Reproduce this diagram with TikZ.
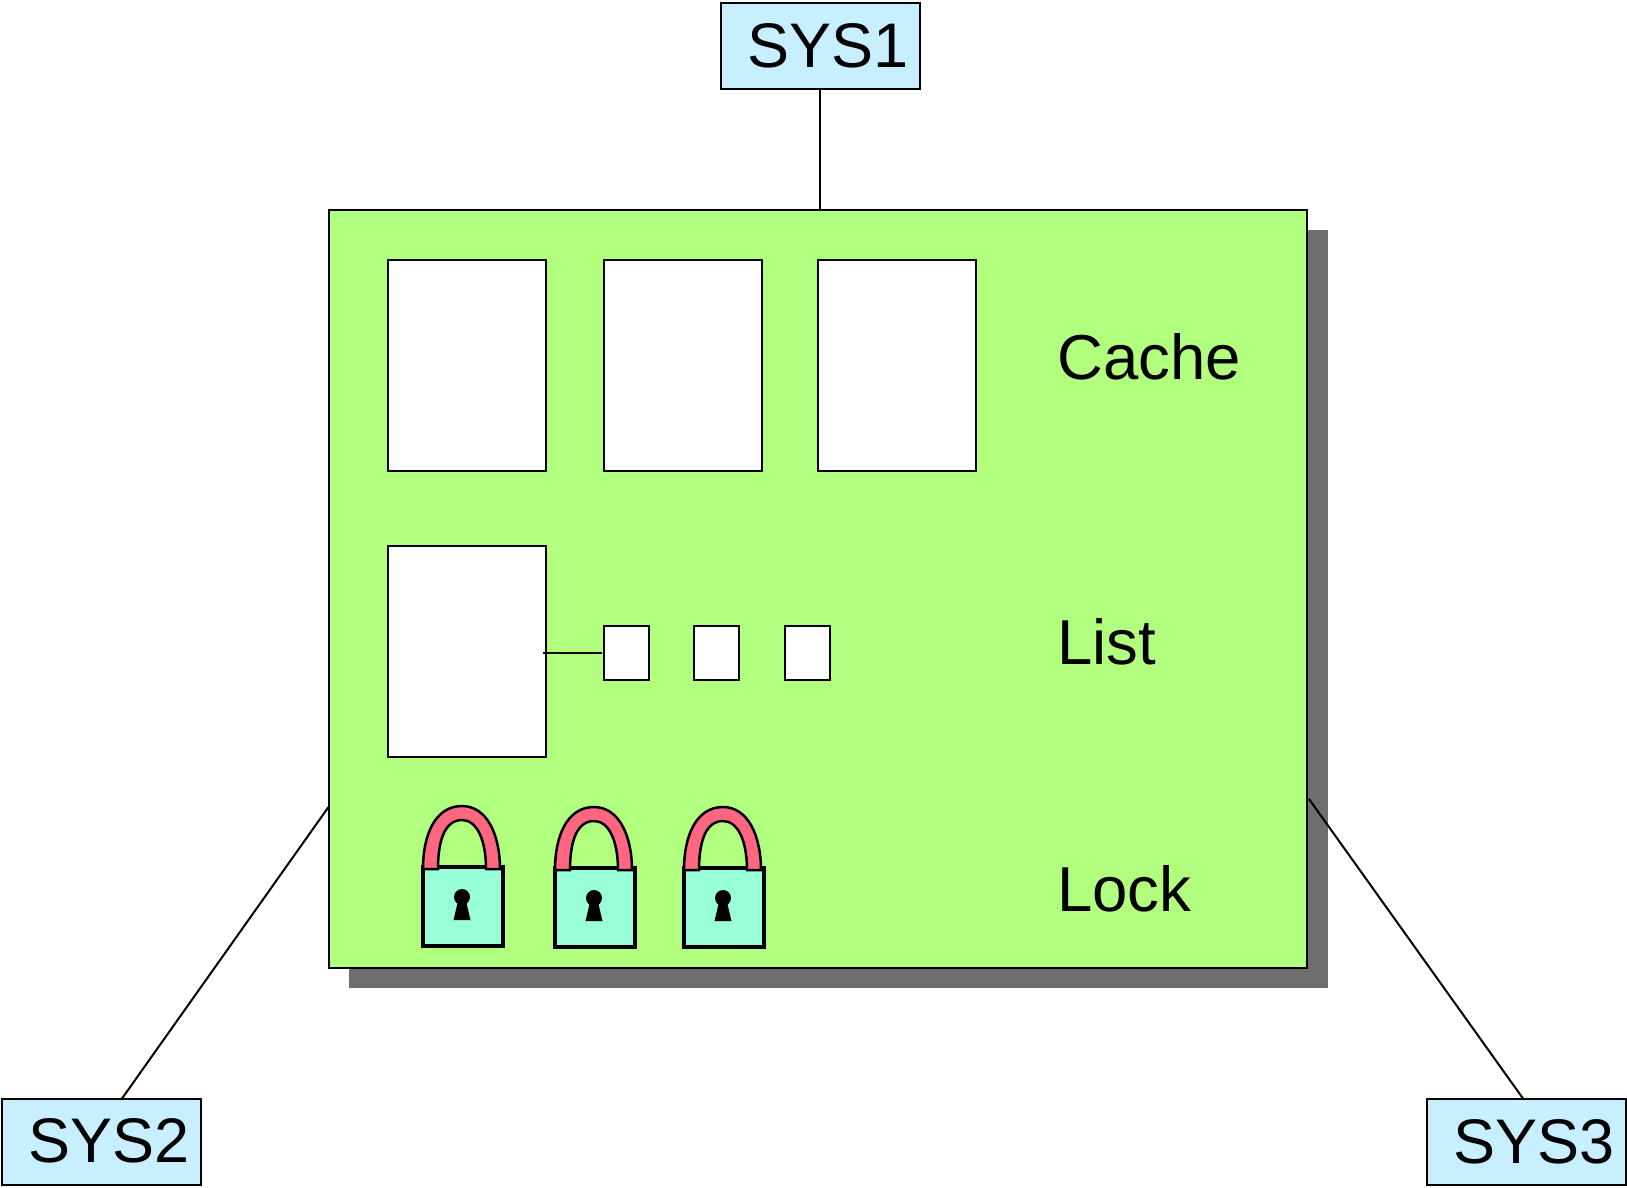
\documentclass[tikz,border=0pt]{standalone}
\usepackage{fontspec}
\setmainfont{Liberation Sans}
\definecolor{facility}{RGB}{178,255,127}
\definecolor{sysblue}{RGB}{200,239,255}
\definecolor{shadowgray}{RGB}{110,110,110}
\definecolor{lockbody}{RGB}{153,255,217}
\definecolor{lockbar}{RGB}{255,102,128}
\tikzset{
  sysbox/.style={draw, line width=2pt, fill=sysblue, minimum width=199pt, minimum height=86pt,
    text width=177pt, inner xsep=11pt, inner ysep=0pt, outer sep=0pt, align=right,
    font=\fontsize{63}{66}\selectfont},
  slotbox/.style={draw, line width=2pt, fill=white, minimum width=158pt, minimum height=211pt, inner sep=0pt, outer sep=0pt},
  smallbox/.style={draw, line width=2pt, fill=white, minimum width=45pt, minimum height=54pt, inner sep=0pt, outer sep=0pt},
  rowlabel/.style={anchor=base west, inner sep=0pt, font=\fontsize{63.5}{68}\selectfont},
  padlock/.pic={
    \draw[line width=4.5pt, fill=lockbody] (2,2) rectangle (82,81);
    \draw[line width=2.5pt, fill=lockbar] (2,4) .. controls (2,-30) and (14,-59) .. (41,-59)
      .. controls (66,-59) and (79,-30) .. (79,4) -- (65,4)
      .. controls (65,-25) and (56,-45) .. (41,-45)
      .. controls (24,-45) and (17,-25) .. (17,4) -- cycle;
    \fill[black] (41,32) circle (8);
    \fill[black] (37,36) -- (45,36) -- (49.5,55) -- (32.5,55) -- cycle;
  }
}
\begin{document}
\begin{tikzpicture}[x=1pt, y=-1pt]
\useasboundingbox (0,0) rectangle (1627,1187);
\fill[white] (0,0) rectangle (1627,1187);

% Shadow
\fill[shadowgray] (349,230) rectangle (1328,988);

% Facility
\node[draw, line width=2pt, fill=facility, minimum width=978.5pt, minimum height=758pt, inner sep=0pt, outer sep=0pt] (main) at (817.75,589) {};

% Systems
\node[sysbox] (sys1) at (820.5,46) {\raisebox{1.5pt}{SYS1}};
\node[sysbox] (sys2) at (101.5,1141.5) {\raisebox{2.5pt}{SYS2}};
\node[sysbox] (sys3) at (1526.5,1141.5) {\raisebox{-1.5pt}{SYS3}};

% Cache
\node[slotbox] (cache1) at (467,365.5) {};
\node[slotbox] (cache2) at (683,365.5) {};
\node[slotbox] (cache3) at (897,365.5) {};
\node[rowlabel] (cachelabel) at (1057,379) {Cache};

% List
\node[slotbox] (listhead) at (467,651.5) {};
\node[smallbox] (entry1) at (626.5,653) {};
\node[smallbox] (entry2) at (716.5,653) {};
\node[smallbox] (entry3) at (807.5,653) {};
\node[rowlabel] (listlabel) at (1057,664) {List};
\draw[line width=2pt] ([xshift=-3pt]listhead.east |- entry1.west) -- ([xshift=-2pt]entry1.west);

% Lock
\pic at (421,865) {padlock};
\pic at (553,866) {padlock};
\pic at (682,866) {padlock};
\node[rowlabel] (locklabel) at (1057,911) {Lock};

% Links
\coordinate (leftport) at (328.5,807);
\coordinate (rightport) at (1309,799);
\draw[line width=2pt] ([xshift=-1pt]sys1.south) -- ([xshift=-1pt]sys1.south |- main.north);
\draw[line width=2pt] ([xshift=20.5pt]sys2.north) -- (leftport);
\draw[line width=2pt] ([xshift=-3.5pt]sys3.north) -- (rightport);
\end{tikzpicture}
\end{document}
